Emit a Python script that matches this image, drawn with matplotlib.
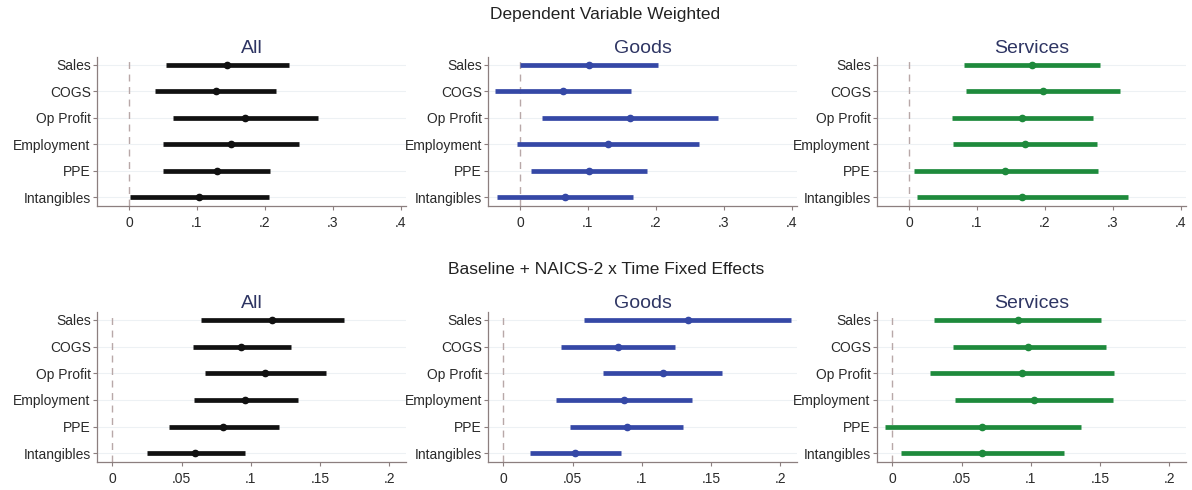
import matplotlib
matplotlib.use("Agg")
import matplotlib.pyplot as plt

plt.rcParams['font.family'] = ['Liberation Sans', 'DejaVu Sans']

variables = ['Sales', 'COGS', 'Op Profit', 'Employment', 'PPE', 'Intangibles']
groups = ['All', 'Goods', 'Services']
colors = {'All': '#111111', 'Goods': '#3548a6', 'Services': '#1e8a3c'}

# Dependent Variable Weighted: point estimates and 95% CI bounds
top_est = {
    'All':      [0.144, 0.128, 0.171, 0.151, 0.130, 0.103],
    'Goods':    [0.102, 0.063, 0.162, 0.130, 0.102, 0.066],
    'Services': [0.181, 0.197, 0.167, 0.171, 0.142, 0.166],
}
top_lo = {
    'All':      [0.054, 0.039, 0.065, 0.050, 0.050, 0.001],
    'Goods':    [0.000, -0.037, 0.032, -0.004, 0.017, -0.034],
    'Services': [0.081, 0.084, 0.064, 0.065, 0.007, 0.012],
}
top_hi = {
    'All':      [0.236, 0.216, 0.279, 0.251, 0.208, 0.206],
    'Goods':    [0.204, 0.163, 0.292, 0.264, 0.187, 0.166],
    'Services': [0.281, 0.311, 0.271, 0.277, 0.278, 0.322],
}

# Baseline + NAICS-2 x Time Fixed Effects
bot_est = {
    'All':      [0.115, 0.093, 0.110, 0.096, 0.080, 0.060],
    'Goods':    [0.133, 0.083, 0.115, 0.087, 0.089, 0.052],
    'Services': [0.091, 0.098, 0.094, 0.102, 0.065, 0.065],
}
bot_lo = {
    'All':      [0.064, 0.058, 0.067, 0.059, 0.041, 0.025],
    'Goods':    [0.058, 0.042, 0.072, 0.038, 0.048, 0.019],
    'Services': [0.030, 0.044, 0.027, 0.045, -0.005, 0.006],
}
bot_hi = {
    'All':      [0.167, 0.129, 0.154, 0.134, 0.120, 0.096],
    'Goods':    [0.208, 0.124, 0.158, 0.136, 0.130, 0.085],
    'Services': [0.151, 0.154, 0.160, 0.159, 0.136, 0.124],
}

top_ticks = [0, 0.1, 0.2, 0.3, 0.4]
top_ticklabels = ['0', '.1', '.2', '.3', '.4']
bot_ticks = [0, 0.05, 0.1, 0.15, 0.2]
bot_ticklabels = ['0', '.05', '.1', '.15', '.2']

W, H = 1192, 490
fig = plt.figure(figsize=(W / 100, H / 100), dpi=100)
fig.patch.set_facecolor('white')

lefts = [97, 488, 877]
ax_w = 309


def draw_panel(ax, name, est, lo, hi, ticks, ticklabels, xlim):
    ypos = list(range(len(variables)))
    for y in ypos:
        ax.axhline(y, color='#edf1f4', lw=0.8, zorder=0)
    ax.axvline(0, color='#b8a8a8', lw=1.0, ls=(0, (5, 4)), zorder=1)
    ax.hlines(ypos, lo, hi, color=colors[name], lw=3.4, zorder=2)
    ax.plot(est, ypos, 'o', color=colors[name], ms=4.5, zorder=3)
    ax.set_xlim(*xlim)
    ax.set_ylim(len(variables) - 1 + 0.33, -0.3)
    ax.set_yticks(ypos)
    ax.set_yticklabels(variables)
    ax.set_xticks(ticks)
    ax.set_xticklabels(ticklabels)
    for s in ['top', 'right']:
        ax.spines[s].set_visible(False)
    for s in ['left', 'bottom']:
        ax.spines[s].set_color('#8c7f7f')
        ax.spines[s].set_linewidth(0.9)
    ax.tick_params(axis='y', length=3, pad=1.5, labelsize=10, colors='#8c7f7f',
                   labelcolor='#2a2a2a')
    ax.tick_params(axis='x', length=3, pad=4, labelsize=10, colors='#8c7f7f',
                   labelcolor='#2a2a2a')
    ax.set_title(name, fontsize=14, color='#2e3563', pad=3)


rows = [
    (57, 206, top_est, top_lo, top_hi, top_ticks, top_ticklabels, (-0.047, 0.408)),
    (312, 462, bot_est, bot_lo, bot_hi, bot_ticks, bot_ticklabels, (-0.011, 0.212)),
]
for top, bottom, est, lo, hi, ticks, tl, xlim in rows:
    for left, g in zip(lefts, groups):
        ax = fig.add_axes([left / W, 1 - bottom / H, ax_w / W, (bottom - top) / H])
        draw_panel(ax, g, est[g], lo[g], hi[g], ticks, tl, xlim)

fig.text(605 / W, 1 - 15 / H, 'Dependent Variable Weighted', ha='center', va='center',
         fontsize=12.5, color='#222222')
fig.text(606 / W, 1 - 270 / H, 'Baseline + NAICS-2 x Time Fixed Effects', ha='center',
         va='center', fontsize=12.5, color='#222222')

fig.savefig('out.png', dpi=100, facecolor='white')
